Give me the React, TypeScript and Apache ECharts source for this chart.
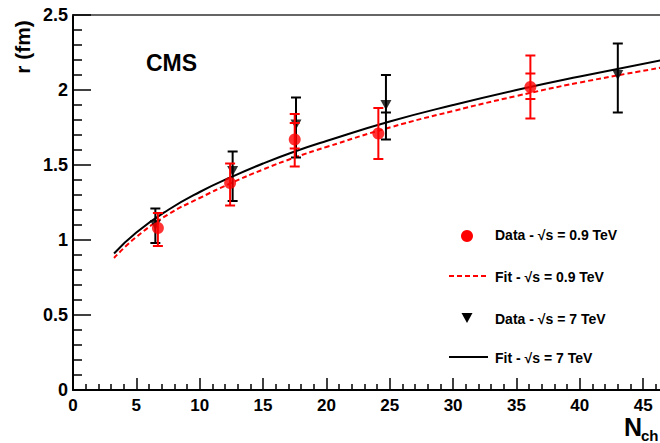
import React, { useEffect, useRef } from "react";
import * as echarts from "echarts";

// Fit curves
const fitN = [3.24, 5, 7.5, 10, 12.5, 15, 17.5, 20, 25, 30, 35, 40, 46.5];
const fit7 = [0.91, 1.05, 1.2, 1.32, 1.42, 1.51, 1.59, 1.66, 1.79, 1.9, 2.0, 2.09, 2.2];
const fit09 = [0.88, 1.02, 1.17, 1.28, 1.38, 1.47, 1.55, 1.62, 1.75, 1.86, 1.96, 2.05, 2.15];

// Data sqrt(s) = 0.9 TeV
const n09 = [6.7, 12.4, 17.5, 24.1, 36.1];
const r09 = [1.08, 1.38, 1.67, 1.71, 2.02];
const lo09 = [0.96, 1.23, 1.49, 1.54, 1.81];
const hi09 = [1.18, 1.51, 1.84, 1.88, 2.23];
const statLo09: (number | null)[] = [null, null, 1.61, null, 1.94];
const statHi09: (number | null)[] = [null, null, 1.78, null, 2.11];

// Data sqrt(s) = 7 TeV
const n7 = [6.5, 12.6, 17.6, 24.7, 43.0];
const r7 = [1.1, 1.46, 1.77, 1.9, 2.1];
const lo7 = [0.98, 1.26, 1.55, 1.67, 1.85];
const hi7 = [1.21, 1.59, 1.95, 2.1, 2.31];
const statLo7: (number | null)[] = [null, null, null, 1.85, null];
const statHi7: (number | null)[] = [null, null, null, null, null];

const xTickLabels = ["0", "5", "10", "15", "20", "25", "30", "35", "40", "45"];

const legendLabels = [
  "Data - \u221As = 0.9 TeV",
  "Fit - \u221As = 0.9 TeV",
  "Data - \u221As = 7 TeV",
  "Fit - \u221As = 7 TeV",
];

const FONT = "'Liberation Sans', Arial, Helvetica, sans-serif";

function errRender(color: string) {
  return (params: any, api: any) => {
    const x = api.value(0);
    const lo = api.value(1);
    const hi = api.value(2);
    const slo = api.value(3);
    const shi = api.value(4);
    const pLo = api.coord([x, lo]);
    const pHi = api.coord([x, hi]);
    const half = 5;
    const style = { stroke: color, lineWidth: 2 };
    const children: any[] = [
      { type: "line", shape: { x1: pLo[0], y1: pLo[1], x2: pHi[0], y2: pHi[1] }, style },
      { type: "line", shape: { x1: pLo[0] - half, y1: pLo[1], x2: pLo[0] + half, y2: pLo[1] }, style },
      { type: "line", shape: { x1: pHi[0] - half, y1: pHi[1], x2: pHi[0] + half, y2: pHi[1] }, style },
    ];
    [slo, shi].forEach((v) => {
      if (v !== null && v !== undefined && !isNaN(v) && v !== "-") {
        const p = api.coord([x, v]);
        children.push({ type: "line", shape: { x1: p[0] - half, y1: p[1], x2: p[0] + half, y2: p[1] }, style });
      }
    });
    return { type: "group", children };
  };
}

export default function App() {
  const ref = useRef<HTMLDivElement>(null);
  useEffect(() => {
    if (!ref.current) return;
    const chart = echarts.init(ref.current, null, { renderer: "svg" });
    const err09 = n09.map((x, i) => [x, lo09[i], hi09[i], statLo09[i] ?? "-", statHi09[i] ?? "-"]);
    const err7 = n7.map((x, i) => [x, lo7[i], hi7[i], statLo7[i] ?? "-", statHi7[i] ?? "-"]);
    const lbl = { fontFamily: FONT, fontWeight: "bold" as const, color: "#000" };
    chart.setOption({
      animation: false,
      backgroundColor: "#fff",
      grid: {
        left: 73,
        top: 15,
        width: 50 * 12.67,
        height: 375,
        containLabel: false,
        outerBoundsMode: "none",
      },
      xAxis: [
        {
          type: "value",
          min: 0,
          max: 50,
          interval: 5,
          position: "bottom",
          axisLine: { show: true, onZero: false, lineStyle: { color: "#000", width: 2 } },
          axisTick: { show: true, inside: true, length: 12, lineStyle: { color: "#000", width: 1.5 } },
          minorTick: { show: true, splitNumber: 5, length: 6, lineStyle: { color: "#000", width: 1.5 } },
          axisLabel: {
            ...lbl,
            fontSize: 17,
            margin: 7,
            showMaxLabel: false,
            hideOverlap: false,
            formatter: (v: number) => {
              const idx = Math.round(v / 5);
              return idx < xTickLabels.length ? xTickLabels[idx] : "";
            },
          },
          splitLine: { show: false },
        },
        {
          type: "value",
          min: 0,
          max: 50,
          position: "top",
          axisLine: { show: true, onZero: false, lineStyle: { color: "#333", width: 1.5 } },
          axisTick: { show: false },
          axisLabel: { show: false },
          splitLine: { show: false },
        },
      ],
      yAxis: {
        type: "value",
        min: 0,
        max: 2.5,
        interval: 0.5,
        axisLine: { show: true, onZero: false, lineStyle: { color: "#000", width: 2 } },
        axisTick: { show: true, inside: true, length: 18, lineStyle: { color: "#000", width: 1.5 } },
        minorTick: { show: true, splitNumber: 5, length: 9, lineStyle: { color: "#000", width: 1.5 } },
        axisLabel: { ...lbl, fontSize: 18, margin: 5 },
        splitLine: { show: false },
      },
      series: [
        {
          type: "line",
          data: fitN.map((x, i) => [x, fit09[i]]),
          smooth: true,
          symbol: "none",
          lineStyle: { color: "#ff0000", width: 2, type: [5, 3] },
          z: 2,
        },
        {
          type: "line",
          data: fitN.map((x, i) => [x, fit7[i]]),
          smooth: true,
          symbol: "none",
          lineStyle: { color: "#000", width: 2 },
          z: 2,
        },
        {
          type: "custom",
          renderItem: errRender("#000"),
          data: err7,
          encode: { x: 0, y: [1, 2] },
          z: 3,
        },
        {
          type: "scatter",
          data: n7.map((x, i) => [x, r7[i]]),
          symbol: "triangle",
          symbolRotate: 180,
          symbolSize: [11, 10],
          itemStyle: { color: "#000" },
          z: 4,
        },
        {
          type: "custom",
          renderItem: errRender("#ff0000"),
          data: err09,
          encode: { x: 0, y: [1, 2] },
          z: 5,
        },
        {
          type: "scatter",
          data: n09.map((x, i) => [x, r09[i]]),
          symbol: "circle",
          symbolSize: 12,
          itemStyle: { color: "#ff0000" },
          z: 6,
        },
      ],
      graphic: [
        {
          type: "text",
          left: 146,
          top: 51,
          style: { text: "CMS", font: `bold 23px ${FONT}`, fill: "#000" },
        },
        {
          type: "text",
          x: 22,
          y: 47,
          rotation: Math.PI / 2,
          style: { text: "r (fm)", font: `bold 21px ${FONT}`, fill: "#000", align: "center", verticalAlign: "middle" },
        },
        {
          type: "text",
          x: 624,
          y: 414,
          style: { text: "N", font: `bold 25px ${FONT}`, fill: "#000" },
        },
        {
          type: "text",
          x: 641,
          y: 428,
          style: { text: "ch", font: `bold 15px ${FONT}`, fill: "#000" },
        },
        // legend
        { type: "circle", shape: { cx: 467, cy: 236, r: 6 }, style: { fill: "#ff0000" } },
        {
          type: "line",
          shape: { x1: 449, y1: 276, x2: 486, y2: 276 },
          style: { stroke: "#ff0000", lineWidth: 2, lineDash: [5, 3] },
        },
        {
          type: "polygon",
          shape: { points: [[461.5, 313], [472.5, 313], [467, 323]] },
          style: { fill: "#000" },
        },
        {
          type: "line",
          shape: { x1: 449, y1: 357, x2: 488, y2: 357 },
          style: { stroke: "#000", lineWidth: 2 },
        },
        ...legendLabels.map((t, i) => ({
          type: "text",
          x: 495,
          y: [235, 277, 319, 358][i],
          style: { text: t, font: `bold 14px ${FONT}`, fill: "#000", verticalAlign: "middle" },
        })),
      ],
    });
    return () => chart.dispose();
  }, []);
  return <div ref={ref} style={{ position: "absolute", left: 0, top: 0, width: 660, height: 443 }} />;
}
